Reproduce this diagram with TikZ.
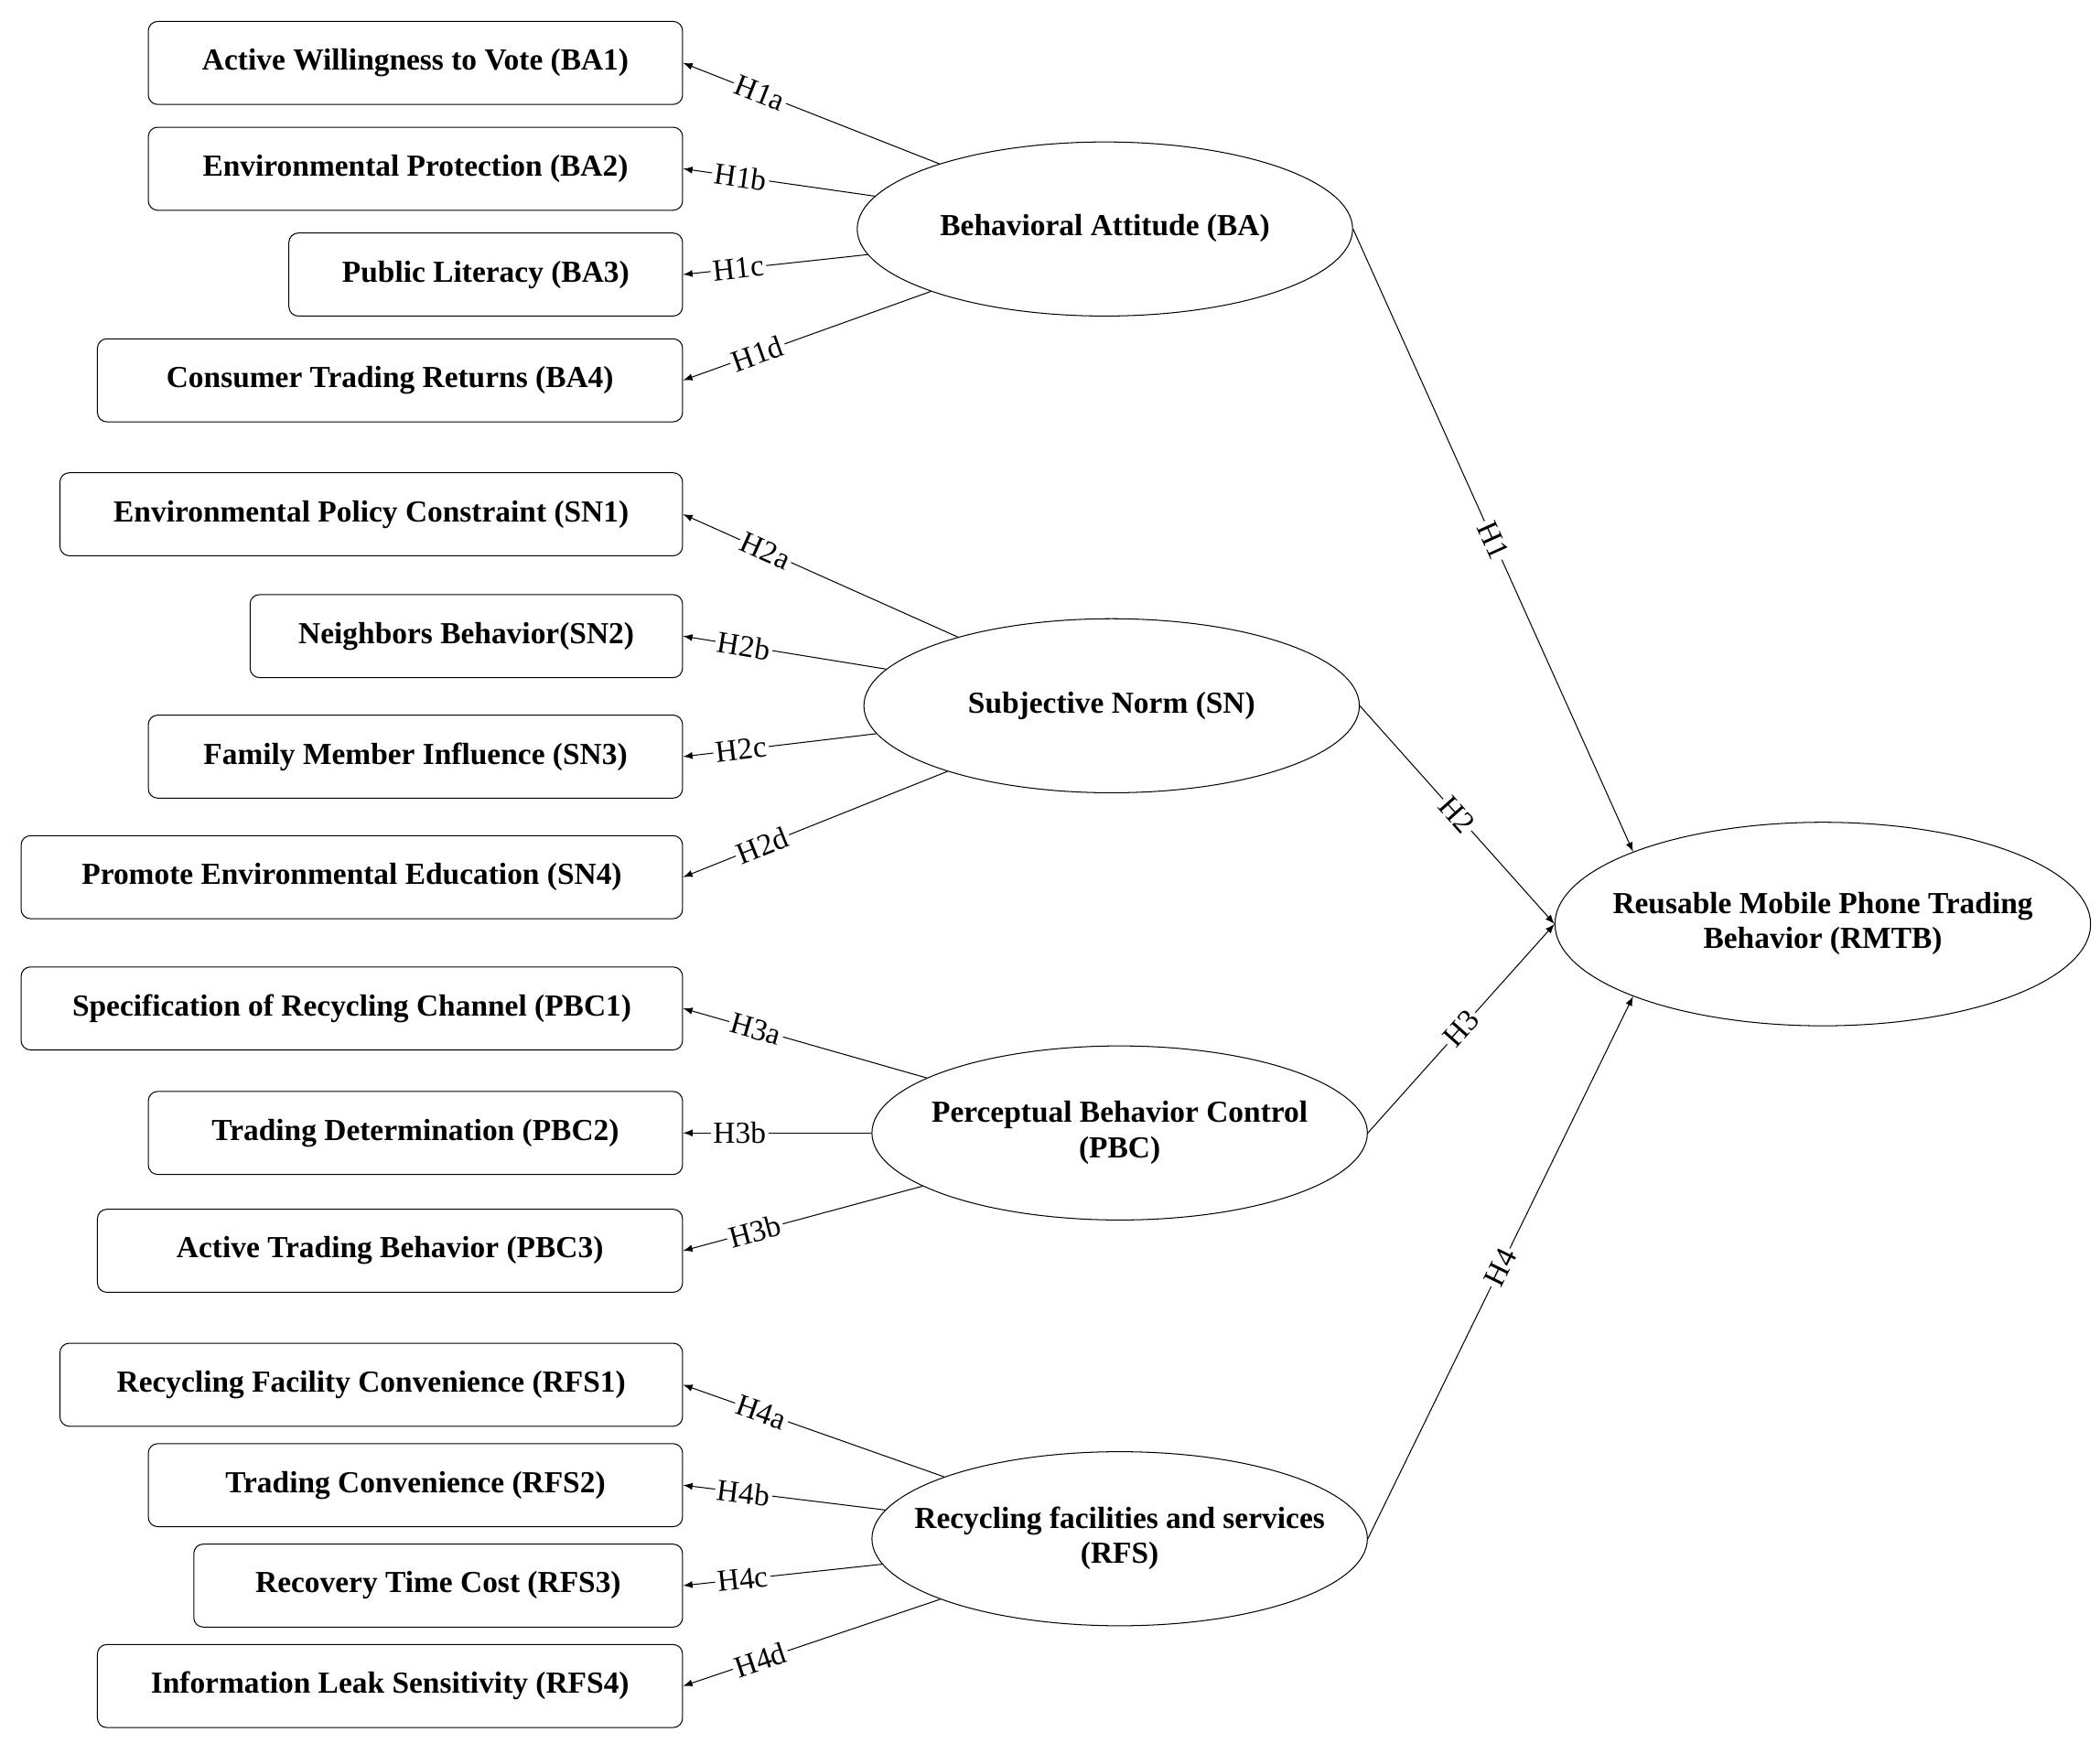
\documentclass[tikz,border=0pt]{standalone}
\usepackage{fontspec}
\setmainfont{Liberation Serif}
\usetikzlibrary{shapes.geometric}
\newcommand{\lv}[1]{\makebox[0pt]{\begin{tabular}{@{}c@{}}#1\end{tabular}}}
\begin{document}
\begin{tikzpicture}[x=0.02cm,y=-0.02cm,
    item/.style={draw,rounded corners=4pt,anchor=east,minimum height=1.24cm,font=\fontsize{13}{15}\bfseries\selectfont},
    latent/.style={draw,ellipse,inner sep=0pt,minimum width=7.4cm,minimum height=2.6cm,font=\fontsize{13}{15}\bfseries\selectfont},
    hlab/.style={fill=white,sloped,inner sep=1pt,font=\fontsize{13}{15}\selectfont},
    link/.style={-latex}]
\useasboundingbox (0,0) rectangle (1568,1301);
% indicator boxes
\node[item,minimum width=7.98cm] (ba1) at (510,47) {Active Willingness to Vote (BA1)};
\node[item,minimum width=7.98cm] (ba2) at (510,126) {Environmental Protection (BA2)};
\node[item,minimum width=5.88cm] (ba3) at (510,205) {Public Literacy (BA3)};
\node[item,minimum width=8.74cm] (ba4) at (510,284) {Consumer Trading Returns (BA4)};
\node[item,minimum width=9.30cm] (sn1) at (510,384) {Environmental Policy Constraint (SN1)};
\node[item,minimum width=6.46cm] (sn2) at (510,475) {Neighbors Behavior(SN2)};
\node[item,minimum width=7.98cm] (sn3) at (510,565) {Family Member Influence (SN3)};
\node[item,minimum width=9.88cm] (sn4) at (510,655) {Promote Environmental Education (SN4)};
\node[item,minimum width=9.88cm] (pbc1) at (510,753) {Specification of Recycling Channel (PBC1)};
\node[item,minimum width=7.98cm] (pbc2) at (510,846) {Trading Determination (PBC2)};
\node[item,minimum width=8.74cm] (pbc3) at (510,934) {Active Trading Behavior (PBC3)};
\node[item,minimum width=9.30cm] (rfs1) at (510,1034) {Recycling Facility Convenience (RFS1)};
\node[item,minimum width=7.98cm] (rfs2) at (510,1109) {Trading Convenience (RFS2)};
\node[item,minimum width=7.30cm] (rfs3) at (510,1184) {Recovery Time Cost (RFS3)};
\node[item,minimum width=8.74cm] (rfs4) at (510,1259) {Information Leak Sensitivity (RFS4)};
% latent variables
\node[latent] (ba) at (825,171) {\lv{Behavioral Attitude (BA)}};
\node[latent] (sn) at (830,527) {\lv{Subjective Norm (SN)}};
\node[latent] (pbc) at (836,846) {\lv{Perceptual Behavior Control\\(PBC)}};
\node[latent] (rfs) at (836,1149) {\lv{Recycling facilities and services\\(RFS)}};
\node[latent,minimum width=8cm,minimum height=3.04cm] (rmtb) at (1361,690) {\lv{Reusable Mobile Phone Trading\\Behavior (RMTB)}};
% hypotheses
\draw[link] (ba) -- node[hlab,pos=0.7]{H1a} (ba1.east);
\draw[link] (ba) -- node[hlab,pos=0.7]{H1b} (ba2.east);
\draw[link] (ba) -- node[hlab,pos=0.7]{H1c} (ba3.east);
\draw[link] (ba) -- node[hlab,pos=0.7]{H1d} (ba4.east);
\draw[link] (sn) -- node[hlab,pos=0.7]{H2a} (sn1.east);
\draw[link] (sn) -- node[hlab,pos=0.7]{H2b} (sn2.east);
\draw[link] (sn) -- node[hlab,pos=0.7]{H2c} (sn3.east);
\draw[link] (sn) -- node[hlab,pos=0.7]{H2d} (sn4.east);
\draw[link] (pbc) -- node[hlab,pos=0.7]{H3a} (pbc1.east);
\draw[link] (pbc) -- node[hlab,pos=0.7]{H3b} (pbc2.east);
\draw[link] (pbc) -- node[hlab,pos=0.7]{H3b} (pbc3.east);
\draw[link] (rfs) -- node[hlab,pos=0.7]{H4a} (rfs1.east);
\draw[link] (rfs) -- node[hlab,pos=0.7]{H4b} (rfs2.east);
\draw[link] (rfs) -- node[hlab,pos=0.7]{H4c} (rfs3.east);
\draw[link] (rfs) -- node[hlab,pos=0.7]{H4d} (rfs4.east);
\draw[link] (ba.east) -- node[hlab]{H1} (rmtb.north west);
\draw[link] (sn.east) -- node[hlab]{H2} (rmtb.west);
\draw[link] (pbc.east) -- node[hlab]{H3} (rmtb.west);
\draw[link] (rfs.east) -- node[hlab]{H4} (rmtb.south west);
\end{tikzpicture}
\end{document}
